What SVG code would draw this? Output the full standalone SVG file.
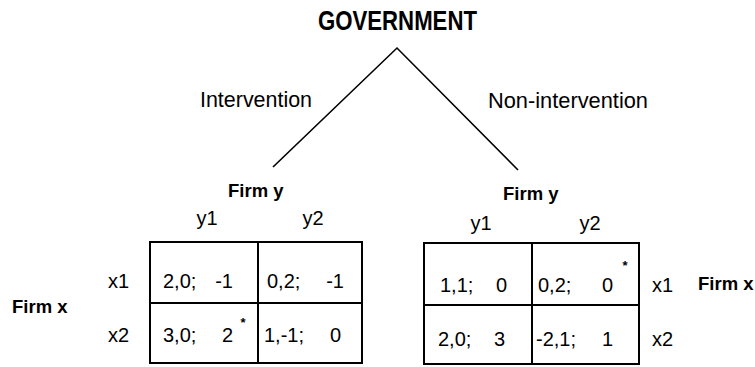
<svg xmlns="http://www.w3.org/2000/svg" width="755" height="367" viewBox="0 0 755 367">
<style>
text{font-family:"Liberation Sans",Arial,sans-serif;fill:#000}
.t{font-size:22px}
.b{font-weight:bold;font-size:18.5px}
.c{font-size:20px}
.s{font-size:13px;font-weight:bold}
.edge{stroke:#000;stroke-width:1.6;fill:none}
.grid{stroke:#000;stroke-width:2;fill:none}
</style>
<rect width="755" height="367" fill="#fff"/>
<g id="government">
<text x="318" y="30" font-size="28" font-weight="bold" textLength="159" lengthAdjust="spacingAndGlyphs">GOVERNMENT</text>
</g>
<g id="connectors">
<polyline class="edge" points="273,167 397,48 518,170"/>
<text class="t" x="200" y="107" textLength="112" lengthAdjust="spacingAndGlyphs">Intervention</text>
<text class="t" x="488" y="108" textLength="160" lengthAdjust="spacingAndGlyphs">Non-intervention</text>
</g>
<g id="game-intervention">
<text class="b" x="228" y="197">Firm y</text>
<text class="c" x="207" y="225" text-anchor="middle">y1</text>
<text class="c" x="313" y="225" text-anchor="middle">y2</text>
<text class="b" x="12" y="313">Firm x</text>
<text class="c" x="108" y="288">x1</text>
<text class="c" x="108" y="342">x2</text>
<rect class="grid" x="150" y="242" width="212" height="121"/>
<line class="grid" x1="258" y1="242" x2="258" y2="363"/>
<line class="grid" x1="150" y1="303" x2="362" y2="303"/>
<text class="c" y="288"><tspan x="163">2,0;</tspan><tspan x="233" text-anchor="end">-1</tspan></text>
<text class="c" y="288"><tspan x="267">0,2;</tspan><tspan x="344" text-anchor="end">-1</tspan></text>
<text class="c" y="342"><tspan x="163">3,0;</tspan><tspan x="233" text-anchor="end">2</tspan></text>
<text class="s" x="243" y="327" text-anchor="middle">*</text>
<text class="c" y="342"><tspan x="264">1,-1;</tspan><tspan x="341" text-anchor="end">0</tspan></text>
</g>
<g id="game-non-intervention">
<text class="b" x="503" y="200">Firm y</text>
<text class="c" x="481" y="230" text-anchor="middle">y1</text>
<text class="c" x="590" y="230" text-anchor="middle">y2</text>
<text class="c" x="652" y="292">x1</text>
<text class="c" x="652" y="346">x2</text>
<text class="b" x="698" y="290" font-size="18">Firm x</text>
<rect class="grid" x="424" y="243" width="215" height="121"/>
<line class="grid" x1="532" y1="243" x2="532" y2="364"/>
<line class="grid" x1="424" y1="305" x2="639" y2="305"/>
<text class="c" y="292"><tspan x="440">1,1;</tspan><tspan x="507" text-anchor="end">0</tspan></text>
<text class="c" y="292"><tspan x="538">0,2;</tspan><tspan x="613" text-anchor="end">0</tspan></text>
<text class="s" x="625" y="270" text-anchor="middle">*</text>
<text class="c" y="346"><tspan x="438">2,0;</tspan><tspan x="505" text-anchor="end">3</tspan></text>
<text class="c" y="346"><tspan x="536">-2,1;</tspan><tspan x="613" text-anchor="end">1</tspan></text>
</g>
</svg>
